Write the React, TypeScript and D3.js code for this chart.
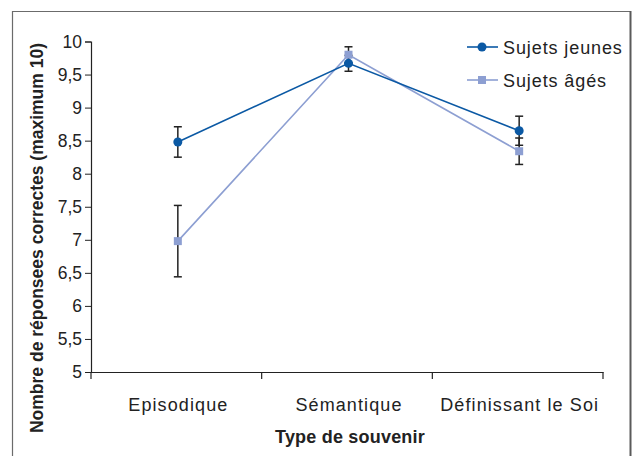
import React, { useEffect, useRef } from 'react'
import * as d3 from 'd3'

const categories = ['Episodique', 'Sémantique', 'Définissant le Soi']
const youngMeans = [8.48, 9.67, 8.65]
const youngErr = [0.23, 0.12, 0.22]
const oldMeans = [6.98, 9.8, 8.34]
const oldErr = [0.54, 0.12, 0.2]
const yTicks = [5, 5.5, 6, 6.5, 7, 7.5, 8, 8.5, 9, 9.5, 10]
const seriesNames = ['Sujets jeunes', 'Sujets âgés']

const FONT = '"Liberation Sans", Arial, Helvetica, sans-serif'

const App = () => {
  const svgRef = useRef<SVGSVGElement | null>(null)

  useEffect(() => {
    const svg = d3.select(svgRef.current)
    svg.selectAll('*').remove()

    const height = 456
    const left = 91
    const right = 603
    const top = 41.5
    const bottom = 372

    // frame around the figure
    svg.append('path')
      .attr('d', `M12.5,${height} V11.5 H630`)
      .attr('fill', 'none')
      .attr('stroke', '#6b6b6b')
      .attr('stroke-width', 1.2)
    svg.append('line')
      .attr('x1', 630.5).attr('x2', 630.5)
      .attr('y1', 11).attr('y2', height)
      .attr('stroke', '#5a5a5a')
      .attr('stroke-width', 2)

    const x = d3.scaleBand<string>().domain(categories).range([left, right])
    const y = d3.scaleLinear().domain([5, 10]).range([bottom, top])

    // y axis
    const yAxis = d3.axisLeft(y)
      .tickValues(yTicks)
      .tickSize(6)
      .tickPadding(3)
      .tickFormat((d) => d3.format('')(d as number).replace('.', ','))
    const yg = svg.append('g').attr('transform', `translate(${left},0)`).call(yAxis)
    yg.select('.domain').attr('stroke', '#222').attr('stroke-width', 1.2)
    yg.selectAll('.tick line').attr('stroke', '#222')
    yg.selectAll('.tick text')
      .attr('fill', '#222')
      .style('font-family', FONT)
      .style('font-size', '17.5px')

    // x axis
    const xAxis = d3.axisBottom(x).tickSize(0).tickPadding(0).tickFormat(() => '')
    const xg = svg.append('g').attr('transform', `translate(0,${bottom})`).call(xAxis)
    xg.select('.domain').attr('stroke', '#222').attr('stroke-width', 1.2)
    xg.selectAll('.tick').remove()
    const boundaries = [left, ...categories.map((c) => (x(c) as number) + x.bandwidth())]
    xg.selectAll('.bline')
      .data(boundaries)
      .enter()
      .append('line')
      .attr('x1', (d) => d)
      .attr('x2', (d) => d)
      .attr('y1', 0)
      .attr('y2', 7)
      .attr('stroke', '#222')
      .attr('stroke-width', 1.2)

    svg.append('g')
      .selectAll('text')
      .data(categories)
      .enter()
      .append('text')
      .attr('x', (d) => (x(d) as number) + x.bandwidth() / 2 + 2)
      .attr('y', 411)
      .attr('text-anchor', 'middle')
      .attr('fill', '#222')
      .style('font-family', FONT)
      .style('font-size', '18px')
      .style('letter-spacing', '1.1px')
      .text((d) => d)

    // axis titles
    svg.append('text')
      .attr('x', 350)
      .attr('y', 443)
      .attr('text-anchor', 'middle')
      .attr('fill', '#222')
      .style('font-family', FONT)
      .style('font-size', '18px')
      .style('font-weight', 'bold')
      .style('letter-spacing', '0.2px')
      .text('Type de souvenir')

    svg.append('text')
      .attr('transform', 'translate(43,238) rotate(-90)')
      .attr('text-anchor', 'middle')
      .attr('fill', '#222')
      .style('font-family', FONT)
      .style('font-size', '17.5px')
      .style('font-weight', 'bold')
      .text('Nombre de réponsees correctes (maximum 10)')

    const cx = (i: number) => (x(categories[i]) as number) + x.bandwidth() / 2 + 1.5

    const series = [
      { name: seriesNames[0], means: youngMeans, err: youngErr, color: '#0b59a4', shape: 'circle' },
      { name: seriesNames[1], means: oldMeans, err: oldErr, color: '#8d9fd2', shape: 'square' },
    ]

    const line = d3.line<number>().x((d, i) => cx(i)).y((d) => y(d))

    // lines, old series below young
    ;[series[1], series[0]].forEach((s) => {
      svg.append('path')
        .datum(s.means)
        .attr('d', line)
        .attr('fill', 'none')
        .attr('stroke', s.color)
        .attr('stroke-width', 1.6)
    })

    // error bars
    series.forEach((s) => {
      const g = svg.append('g')
      s.means.forEach((m, i) => {
        const px = cx(i)
        const y1 = y(m + s.err[i])
        const y2 = y(m - s.err[i])
        g.append('line').attr('x1', px).attr('x2', px).attr('y1', y1).attr('y2', y2)
          .attr('stroke', '#222').attr('stroke-width', 1.5)
        ;[y1, y2].forEach((yy) => {
          g.append('line').attr('x1', px - 4).attr('x2', px + 4).attr('y1', yy).attr('y2', yy)
            .attr('stroke', '#222').attr('stroke-width', 1.5)
        })
      })
    })

    // markers
    const drawMarker = (g: any, shape: string, color: string, px: number, py: number) => {
      if (shape === 'circle') {
        g.append('circle').attr('cx', px).attr('cy', py).attr('r', 4.5).attr('fill', color)
      } else {
        g.append('rect').attr('x', px - 4).attr('y', py - 4).attr('width', 8).attr('height', 8).attr('fill', color)
      }
    }
    ;[series[1], series[0]].forEach((s) => {
      const g = svg.append('g')
      s.means.forEach((m, i) => drawMarker(g, s.shape, s.color, cx(i), y(m)))
    })

    // legend
    const legend = svg.append('g')
    series.forEach((s, i) => {
      const ly = 47 + i * 33
      legend.append('line')
        .attr('x1', 467).attr('x2', 498).attr('y1', ly).attr('y2', ly)
        .attr('stroke', s.color).attr('stroke-width', 1.6)
      drawMarker(legend, s.shape, s.color, 482, ly)
      legend.append('text')
        .attr('x', 503)
        .attr('y', ly + 6.5)
        .attr('fill', '#222')
        .style('font-family', FONT)
        .style('font-size', '18px')
        .style('letter-spacing', '0.9px')
        .text(s.name)
    })
  }, [])

  return (
    <svg
      ref={svgRef}
      width={632}
      height={456}
      style={{ position: 'absolute', left: 0, top: 0, background: '#fff' }}
    ></svg>
  )
}

export default App
